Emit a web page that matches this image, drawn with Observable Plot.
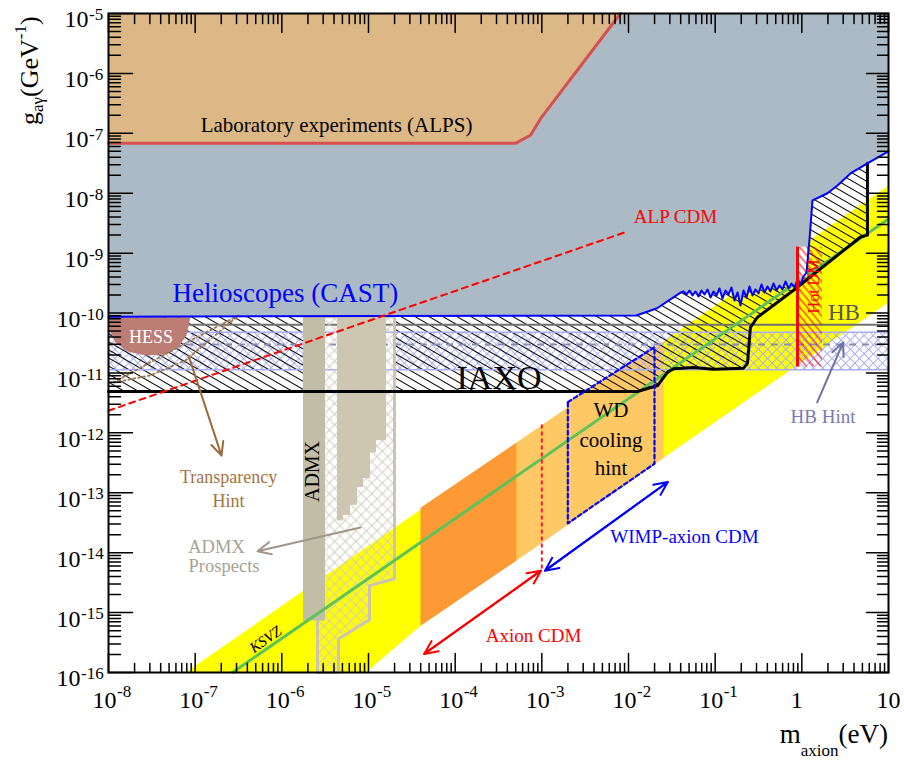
<!DOCTYPE html>
<html>
<head>
<meta charset="utf-8">
<script src="https://cdn.jsdelivr.net/npm/d3@7"></script>
<script src="https://cdn.jsdelivr.net/npm/@observablehq/plot@0.6"></script>
<style>
html, body { margin: 0; padding: 0; background: #fff; overflow: hidden; }
#chart svg { display: block; }
</style>
</head>
<body>
<div id="chart"></div>
<script>
// ---------------- data: log10(m / eV) and log10(g / GeV^-1) ----------------
const labLogM = [-8, -3.304, -3.131, -3.004, -2.093];
const labLogG = [-7.167, -7.167, -7.033, -6.733, -5.0];

const castLogM = [-8, -1.91, -1.67, -1.40,
  -1.365, -1.331, -1.296, -1.262, -1.227, -1.192, -1.158, -1.123, -1.088, -1.054,
  -1.019, -0.985, -0.950, -0.915, -0.881, -0.846, -0.812, -0.777, -0.742, -0.708,
  -0.673, -0.638, -0.604, -0.569, -0.535, -0.500, -0.465, -0.431, -0.396, -0.362,
  -0.327, -0.292, -0.258, -0.223, -0.188, -0.154, -0.119, -0.085, -0.050, -0.015,
  0.019, 0.054,
  0.088, 0.123, 0.296, 0.411, 0.561, 0.757, 1.0];
const castLogG = [-10.06, -10.04, -9.92, -9.66,
  -9.640, -9.690, -9.624, -9.707, -9.640, -9.724, -9.624, -9.690, -9.607, -9.741,
  -9.640, -9.707, -9.590, -9.757, -9.624, -9.690, -9.574, -9.791, -9.657, -9.874,
  -9.624, -9.741, -9.557, -9.707, -9.607, -9.674, -9.524, -9.657, -9.557, -9.640,
  -9.507, -9.624, -9.540, -9.607, -9.473, -9.590, -9.507, -9.574, -9.440, -9.524,
  -9.390, -9.323,
  -8.78, -8.12, -8.0, -7.87, -7.67, -7.50, -7.30];

const iaxoLogM = [-8, -1.897, -1.665, -1.55, -1.48, -1.25, -1.02, -0.673, -0.627, -0.593, -0.512, -0.096, 0.677, 0.757, 0.757];
const iaxoLogG = [-11.31, -11.31, -11.21, -10.99, -10.93, -10.91, -10.94, -10.92, -10.84, -10.24, -10.07, -9.62, -8.73, -8.70, -7.50];

const bandLogM = [-7.112, 1, 1, -4.40, -5.03];
const bandLogG = [-16, -7.87, -9.82, -15.22, -16];
const orangeLogM = [-4.40, -3.29, -3.29, -4.40];
const orangeLogG = [-13.25, -12.16, -14.13, -15.22];
const lightLogM = [-3.29, -1.595, -1.595, -3.29];
const lightLogG = [-12.16, -10.47, -12.42, -14.13];
const wdLogM = [-2.70, -1.70, -1.70, -2.70];
const wdLogG = [-11.487, -10.57, -12.515, -13.51];
const ksvzLogM = [-6.57, 1];
const ksvzLogG = [-16, -8.43];

const admxLogM = [-5.75, -5.496];
const admxLogG = [-10.06, -15.14];
const admxRunLogM = [-5.358, -5.289, -5.208, -5.127, -5.058, -4.977, -4.908, -4.792];
const admxRunLogG = [-13.47, -13.38, -13.21, -12.91, -12.76, -12.33, -12.13, -12.13];
const prospLogM = [-5.589, -4.700, -4.700, -4.989, -4.989, -5.346, -5.346, -5.589];
const prospLogG = [-10.06, -10.06, -14.435, -14.55, -15.12, -15.44, -16, -16];

const hessLogM = [-7.988, -7.988, -7.919, -7.781, -7.573, -7.342, -7.192, -7.100, -7.054];
const hessLogG = [-10.07, -10.29, -10.49, -10.64, -10.71, -10.69, -10.57, -10.37, -10.07];
const transLogM = [-7.942, -7.515, -7.054, -6.50, -6.765, -7.112, -7.515, -7.942];
const transLogG = [-11.16, -10.82, -10.46, -10.04, -10.37, -10.79, -11.04, -11.16];

const hbLogG = -10.197;
const hbHintLogG = [-10.32, -10.948];
const hbHintMidLogG = -10.525;
const hotLogM = [-0.05, 0.238];
const hotLogG = [-8.90, -10.90];
const hotClearLogM = [-0.05, 0.065];
const hotClearLogG = [-8.90, -9.40];
const alpLogM = [-8, -2.035];
const alpLogG = [-11.63, -8.65];
const cdmLineLogM = -3;
const cdmLineLogG = [-11.87, -14.30];

const axionArrowLogM = [-4.357, -3.010];
const axionArrowLogG = [-15.69, -14.30];
const wimpArrowLogM = [-2.963, -1.547];
const wimpArrowLogG = [-14.30, -12.82];
const transArrowLogM = [-7.077, -6.696];
const transArrowLogG = [-10.71, -12.38];
const prospArrowLogM = [-5.092, -6.281];
const prospArrowLogG = [-13.58, -13.975];
const hbArrowLogM = [0.177, 0.477];
const hbArrowLogG = [-11.49, -10.49];

const labelText = ["Laboratory experiments (ALPS)", "Helioscopes (CAST)", "IAXO", "HESS", "Transparency", "Hint", "ADMX", "ADMX", "Prospects", "WD", "cooling", "hint", "ALP CDM", "HB", "HB Hint", "WIMP-axion CDM", "Axion CDM", "Hot DM", "KSVZ"];
const labelLogM = [-5.369, -5.958, -3.494, -7.510, -6.615, -6.615, -5.640, -6.754, -6.667, -2.202, -2.202, -2.202, -1.458, 0.486, 0.244, -1.354, -3.096, 0.138, -6.189];
const labelLogG = [-6.869, -9.674, -11.093, -10.408, -12.745, -13.146, -12.645, -13.913, -14.231, -11.627, -12.127, -12.595, -8.397, -9.991, -11.735, -13.730, -15.382, -9.557, -15.449];

const xDecades = [-8, -7, -6, -5, -4, -3, -2, -1, 0, 1];
const yDecades = [-16, -15, -14, -13, -12, -11, -10, -9, -8, -7, -6, -5];

// ---------------- styles ----------------
const labelStyle = [
  {fontSize: 21, fill: "#000"},
  {fontSize: 27, fill: "#0000ff"},
  {fontSize: 34, fill: "#000"},
  {fontSize: 18, fill: "#ffffff"},
  {fontSize: 18, fill: "#a5743f"},
  {fontSize: 18, fill: "#a5743f"},
  {fontSize: 20, fill: "#000", rotate: -90},
  {fontSize: 18.5, fill: "#a8a292"},
  {fontSize: 18.5, fill: "#a8a292"},
  {fontSize: 21, fill: "#000"},
  {fontSize: 21, fill: "#000"},
  {fontSize: 21, fill: "#000"},
  {fontSize: 19, fill: "#ff0000"},
  {fontSize: 23, fill: "#555555"},
  {fontSize: 19, fill: "#7a7ab2"},
  {fontSize: 19, fill: "#0000ff"},
  {fontSize: 19, fill: "#ff0000"},
  {fontSize: 16, fill: "#ff0000", rotate: -90},
  {fontSize: 15, fill: "#000", rotate: -35, fontStyle: "italic"}
];

// ---------------- build ----------------
const P = (lm, lg) => lm.map((v, i) => ({m: 10 ** v, g: 10 ** lg[i]}));
const closed = a => a.concat([a[0]]);
const lab = P(labLogM, labLogG);
const cast = P(castLogM, castLogG);
const iaxo = P(iaxoLogM, iaxoLogG);
const TOP = 1e-5, BOT = 1e-16, LEFT = 1e-8, RIGHT = 10;
const labPoly = lab.concat([{m: LEFT, g: TOP}]);
const castPoly = cast.concat([{m: RIGHT, g: TOP}, {m: LEFT, g: TOP}]);
const iaxoPoly = cast.concat(iaxo.slice().reverse());
const xy = {x: "m", y: "g"};
const C = v => () => v;

const xMinor = d3.range(-8, 1).flatMap(e => d3.range(2, 10).map(k => k * 10 ** e));
const yMinor = d3.range(-16, -5).flatMap(e => d3.range(2, 10).map(k => k * 10 ** e));
const tickShape = {draw(ctx, l) { ctx.moveTo(0, 0); ctx.lineTo(0, -l); }};
const tk = (data, o) => Plot.vector(data, {anchor: "start", shape: tickShape, stroke: "#000", strokeWidth: 1.5, ...o});

const arrow = (lm, lg, o) => Plot.arrow([0], {x1: C(10 ** lm[0]), y1: C(10 ** lg[0]), x2: C(10 ** lm[1]), y2: C(10 ** lg[1]), headLength: 11, headAngle: 50, strokeWidth: 2, ...o});

const xExp = xDecades.filter(e => e < 0);
const yExp1 = yDecades.filter(e => e > -10);
const yExp2 = yDecades.filter(e => e <= -10);

const chart = Plot.plot({
  width: 904, height: 760,
  marginLeft: 108, marginRight: 16, marginTop: 13, marginBottom: 88,
  x: {type: "log", domain: [LEFT, RIGHT], axis: null},
  y: {type: "log", domain: [BOT, TOP], axis: null},
  style: {fontFamily: "Liberation Serif", background: "#fff"},
  marks: [
    // axion band
    Plot.line(P(bandLogM, bandLogG), {...xy, fill: "#ffff00", stroke: "none"}),
    Plot.line(P(orangeLogM, orangeLogG), {...xy, fill: "#fd9a35", stroke: "none"}),
    Plot.line(P(lightLogM, lightLogG), {...xy, fill: "#fec865", stroke: "none"}),
    Plot.line(P(wdLogM, wdLogG), {...xy, fill: "#fec865", stroke: "none"}),
    // HB hint band
    Plot.rect([0], {x1: C(LEFT), x2: C(RIGHT), y1: C(10 ** hbHintLogG[0]), y2: C(10 ** hbHintLogG[1]), fill: "url(#xHB)"}),
    // IAXO hatch
    Plot.line(iaxoPoly, {...xy, fill: "url(#hIAXO)", stroke: "none"}),
    // clear the ADMX prospects top
    Plot.rect([0], {x1: C(10 ** admxLogM[1]), x2: C(10 ** prospLogM[1]), y1: C(10 ** prospLogG[0]), y2: C(10 ** iaxoLogG[0]), fill: "#fff"}),
    // HB lines
    Plot.ruleY([10 ** hbHintLogG[0], 10 ** hbHintLogG[1]], {stroke: "#a8aef4", strokeWidth: 1.5}),
    Plot.ruleY([10 ** hbHintMidLogG], {stroke: "#8a8cae", strokeWidth: 2, strokeDasharray: "7,6"}),
    Plot.ruleY([10 ** hbLogG], {stroke: "#707070", strokeWidth: 2}),
    // ADMX prospects
    Plot.line(closed(P(prospLogM, prospLogG)), {...xy, fill: "url(#xADMX)", stroke: "#cbc4b4", strokeWidth: 3}),
    // ADMX
    Plot.rect([0], {x1: C(10 ** admxLogM[0]), x2: C(10 ** admxLogM[1]), y1: C(10 ** admxLogG[0]), y2: C(10 ** admxLogG[1]), fill: "#c1bda7"}),
    Plot.areaY(P(admxRunLogM, admxRunLogG), {...xy, y1: "g", y2: C(10 ** admxLogG[0]), curve: "step-after", fill: "#cdc7b1"}),
    // KSVZ
    Plot.line(P(ksvzLogM, ksvzLogG), {...xy, stroke: "#5cc35a", strokeWidth: 3}),
    // helioscopes + lab
    Plot.line(castPoly, {...xy, fill: "#abbac5", stroke: "none"}),
    Plot.line(labPoly, {...xy, fill: "#dcb886", stroke: "none"}),
    // HESS & transparency hint
    Plot.line(P(hessLogM, hessLogG), {...xy, fill: "#bb7d74", stroke: "none"}),
    Plot.line(P(transLogM, transLogG), {...xy, stroke: "#a0805e", strokeWidth: 2, strokeDasharray: "2,3"}),
    // Hot DM
    Plot.rect([0], {x1: C(10 ** hotClearLogM[0]), x2: C(10 ** hotClearLogM[1]), y1: C(10 ** hotClearLogG[0]), y2: C(10 ** hotClearLogG[1]), fill: "#fff"}),
    Plot.rect([0], {x1: C(10 ** hotLogM[0]), x2: C(10 ** hotLogM[1]), y1: C(10 ** hotLogG[0]), y2: C(10 ** hotLogG[1]), fill: "url(#hHot)"}),
    // limit lines
    Plot.line(iaxo, {...xy, stroke: "#000", strokeWidth: 3}),
    Plot.line(cast, {...xy, stroke: "#0000ff", strokeWidth: 2}),
    Plot.line(lab, {...xy, stroke: "#d65050", strokeWidth: 3}),
    Plot.line(closed(P(wdLogM, wdLogG)), {...xy, stroke: "#0000ff", strokeWidth: 2.2, strokeDasharray: "4,3"}),
    Plot.line(P(alpLogM, alpLogG), {...xy, stroke: "#ff0000", strokeWidth: 2, strokeDasharray: "6,5"}),
    Plot.ruleX([10 ** hotLogM[0]], {y1: C(10 ** hotLogG[0]), y2: C(10 ** hotLogG[1]), stroke: "#ff0000", strokeWidth: 3}),
    Plot.ruleX([10 ** cdmLineLogM], {y1: C(10 ** cdmLineLogG[0]), y2: C(10 ** cdmLineLogG[1]), stroke: "#ff1a2a", strokeWidth: 2, strokeDasharray: "4,3"}),
    // arrows
    arrow(axionArrowLogM, axionArrowLogG, {stroke: "#ff0000"}),
    arrow(axionArrowLogM.slice().reverse(), axionArrowLogG.slice().reverse(), {stroke: "#ff0000"}),
    arrow(wimpArrowLogM, wimpArrowLogG, {stroke: "#0000ff"}),
    arrow(wimpArrowLogM.slice().reverse(), wimpArrowLogG.slice().reverse(), {stroke: "#0000ff"}),
    arrow(transArrowLogM, transArrowLogG, {stroke: "#9c6b3c"}),
    arrow(prospArrowLogM, prospArrowLogG, {stroke: "#a0968a"}),
    arrow(hbArrowLogM, hbArrowLogG, {stroke: "#6f73a5"}),
    // labels
    ...labelText.map((t, i) => Plot.text([i], {x: j => 10 ** labelLogM[j], y: j => 10 ** labelLogG[j], text: j => labelText[j], ...labelStyle[i]})),
    // ticks
    tk(xDecades.map(e => 10 ** e), {x: d => d, y: C(BOT), length: 19, rotate: 0}),
    tk(xMinor, {x: d => d, y: C(BOT), length: 9, rotate: 0}),
    tk(xDecades.map(e => 10 ** e), {x: d => d, y: C(TOP), length: 19, rotate: 180}),
    tk(xMinor, {x: d => d, y: C(TOP), length: 10, rotate: 180}),
    tk(yDecades.map(e => 10 ** e), {x: C(LEFT), y: d => d, length: 24, rotate: 90}),
    tk(yMinor, {x: C(LEFT), y: d => d, length: 12, rotate: 90}),
    tk(yDecades.map(e => 10 ** e), {x: C(RIGHT), y: d => d, length: 22, rotate: -90}),
    tk(yMinor, {x: C(RIGHT), y: d => d, length: 11, rotate: -90}),
    Plot.frame({stroke: "#000", strokeWidth: 2}),
    // tick labels
    Plot.text(xExp, {x: e => 10 ** e, y: C(BOT), text: () => "10", textAnchor: "end", dx: 8, dy: 28, fontSize: 24}),
    Plot.text(xExp, {x: e => 10 ** e, y: C(BOT), text: e => String(e), textAnchor: "start", dx: 8.5, dy: 19.5, fontSize: 17}),
    Plot.text([1], {x: d => d, y: C(BOT), text: () => "1", dx: -5, dy: 28, fontSize: 24}),
    Plot.text([10], {x: d => d, y: C(BOT), text: () => "10", dx: 0, dy: 28, fontSize: 24}),
    Plot.text(yExp1, {x: C(LEFT), y: e => 10 ** e, text: () => "10", textAnchor: "end", dx: -20, dy: 6.3, fontSize: 24}),
    Plot.text(yExp1, {x: C(LEFT), y: e => 10 ** e, text: e => String(e), textAnchor: "start", dx: -19.5, dy: 1.2, fontSize: 17}),
    Plot.text(yExp2, {x: C(LEFT), y: e => 10 ** e, text: () => "10", textAnchor: "end", dx: -28, dy: 6.3, fontSize: 24}),
    Plot.text(yExp2, {x: C(LEFT), y: e => 10 ** e, text: e => String(e), textAnchor: "start", dx: -27.5, dy: 1.2, fontSize: 17})
  ]
});

const svg = d3.select(chart);
svg.insert("defs", ":first-child").html(`
  <pattern id="hIAXO" patternUnits="userSpaceOnUse" width="14" height="7" patternTransform="rotate(30)">
    <path d="M0,3.5H14" stroke="#000" stroke-width="1"/></pattern>
  <pattern id="xHB" patternUnits="userSpaceOnUse" width="6.5" height="6.5" patternTransform="rotate(45)">
    <path d="M0,3.25H6.5M3.25,0V6.5" stroke="#a7adf3" stroke-width="1"/></pattern>
  <pattern id="xADMX" patternUnits="userSpaceOnUse" width="7.5" height="7.5" patternTransform="rotate(45)">
    <path d="M0,3.75H7.5M3.75,0V7.5" stroke="#d3ccbf" stroke-width="1"/></pattern>
  <pattern id="hHot" patternUnits="userSpaceOnUse" width="10" height="5.5" patternTransform="rotate(50)">
    <path d="M0,2.75H10" stroke="#ff0000" stroke-width="1"/></pattern>
`);
// axis titles
const yt = svg.append("text").attr("transform", "translate(38,125) rotate(-90)").attr("text-anchor", "start")
  .attr("font-family", "Liberation Serif").attr("font-size", 26).attr("fill", "#000");
yt.append("tspan").text("g");
yt.append("tspan").attr("font-size", 17).attr("dy", 5).text("aγ");
yt.append("tspan").attr("dy", -5).text("(GeV");
yt.append("tspan").attr("font-size", 17).attr("dy", -12).text("-1");
yt.append("tspan").attr("dy", 12).text(")");
const xt = svg.append("text").attr("x", 888).attr("y", 743).attr("text-anchor", "end")
  .attr("font-family", "Liberation Serif").attr("font-size", 27).attr("fill", "#000");
xt.append("tspan").text("m");
xt.append("tspan").attr("font-size", 17).attr("dy", 13).text("axion");
xt.append("tspan").attr("dy", -13).text("(eV)");

document.getElementById("chart").appendChild(chart);
</script>
</body>
</html>
